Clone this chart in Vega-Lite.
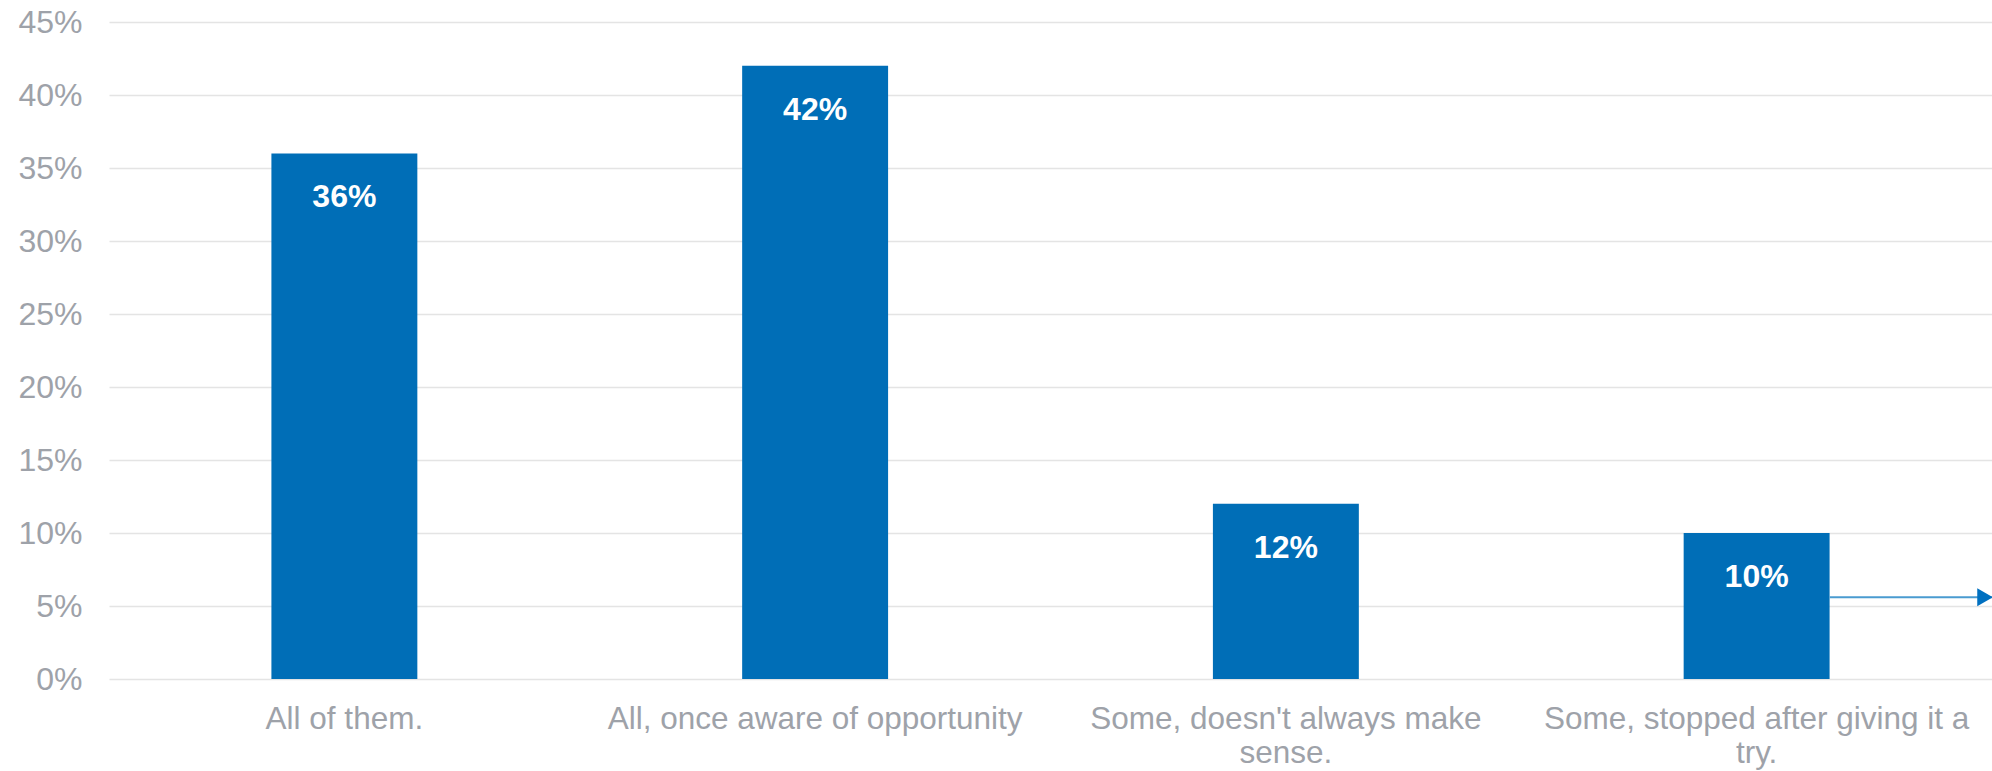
{
  "$schema": "https://vega.github.io/schema/vega-lite/v6.json",
  "width": 1883,
  "height": 657,
  "autosize": {"type": "none"},
  "padding": {"left": 109, "top": 22, "right": 0, "bottom": 92},
  "background": "white",
  "config": {
    "view": {"stroke": null},
    "font": "Liberation Sans"
  },
  "data": {
    "values": [
      {"cat": "All of them.", "value": 0.36},
      {"cat": "All, once aware of opportunity", "value": 0.42},
      {"cat": "Some, doesn't always make sense.", "value": 0.12},
      {"cat": "Some, stopped after giving it a try.", "value": 0.10}
    ]
  },
  "encoding": {
    "x": {
      "field": "cat",
      "type": "nominal",
      "sort": null,
      "scale": {"paddingInner": 0.69, "paddingOuter": 0.345},
      "axis": {
        "title": null,
        "labelAngle": 0,
        "domain": false,
        "ticks": false,
        "labelFont": "Liberation Sans",
        "labelFontSize": 31.5,
        "labelColor": "#9ea2a9",
        "labelPadding": 24,
        "labelLineHeight": 34,
        "labelLimit": 600,
        "labelBaseline": "top",
        "labelExpr": "datum.value == 'Some, stopped after giving it a try.' ? ['Some, stopped after giving it a', 'try.'] : (datum.value == \"Some, doesn't always make sense.\" ? [\"Some, doesn't always make\", 'sense.'] : datum.value)"
      }
    }
  },
  "layer": [
    {
      "mark": {"type": "bar", "color": "#006EB7"},
      "encoding": {
        "y": {
          "field": "value",
          "type": "quantitative",
          "scale": {"domain": [0, 0.45], "nice": false},
          "axis": {
            "title": null,
            "values": [0, 0.05, 0.1, 0.15, 0.2, 0.25, 0.3, 0.35, 0.4, 0.45],
            "format": ".0%",
            "domain": false,
            "ticks": false,
            "grid": true,
            "gridColor": "#e4e4e4",
            "gridWidth": 1.5,
            "labelFont": "Liberation Sans",
            "labelFontSize": 32,
            "labelColor": "#9ea2a9",
            "labelPadding": 27
          }
        }
      }
    },
    {
      "mark": {"type": "text", "color": "white", "fontWeight": "bold", "fontSize": 32, "baseline": "top", "dy": 29, "font": "Liberation Sans"},
      "encoding": {
        "y": {"field": "value", "type": "quantitative"},
        "text": {"field": "value", "type": "quantitative", "format": ".0%"}
      }
    },
    {
      "data": {"values": [{"cat": "Some, stopped after giving it a try.", "arrow": 0.056}]},
      "mark": {"type": "rule", "color": "#4a9bd0", "strokeWidth": 2},
      "encoding": {
        "x": {"field": "cat", "type": "nominal", "bandPosition": 1},
        "x2": {"value": "width"},
        "y": {"field": "arrow", "type": "quantitative"}
      }
    },
    {
      "data": {"values": [{"arrow": 0.056}]},
      "mark": {"type": "point", "shape": "triangle-right", "filled": true, "color": "#0070C0", "size": 320, "opacity": 1},
      "encoding": {
        "x": {"value": 1876},
        "y": {"field": "arrow", "type": "quantitative"}
      }
    }
  ]
}
